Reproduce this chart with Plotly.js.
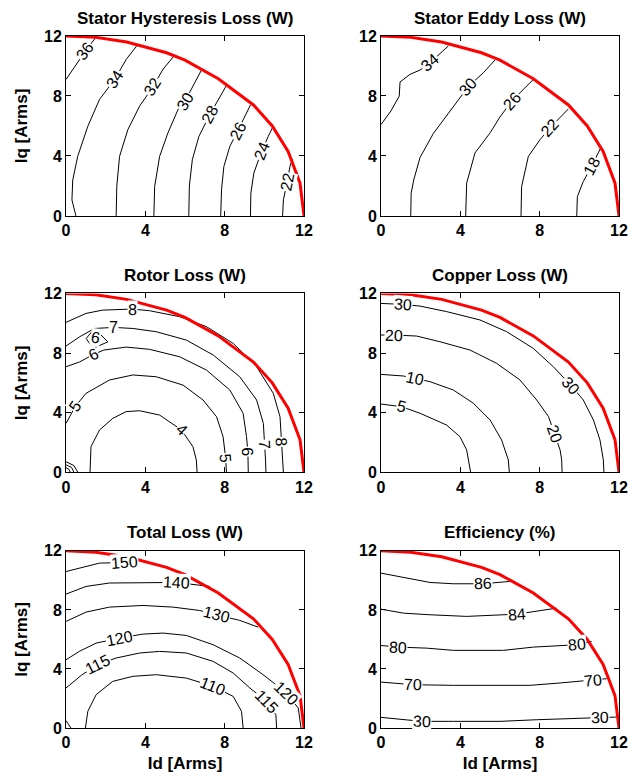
<!DOCTYPE html>
<html><head><meta charset="utf-8">
<script src="https://cdn.plot.ly/plotly-3.0.1.min.js"></script>
<style>html,body{margin:0;padding:0;background:#fff}#chart{width:641px;height:778px}</style>
</head><body><div id="chart"></div>
<script>
const tickVals = [0, 4, 8, 12];
const panelTitles = ['Stator Hysteresis Loss (W)', 'Stator Eddy Loss (W)', 'Rotor Loss (W)', 'Copper Loss (W)', 'Total Loss (W)', 'Efficiency (%)'];

// current limit boundary (red)
const boundaryId = [0, 1.5, 3.06, 5.07, 6.0, 7.68, 9.45, 10.4, 11.2, 11.8, 12];
const boundaryIq = [12, 11.91, 11.6, 10.88, 10.39, 9.15, 7.4, 6.0, 4.3, 2.18, 0];

// Stator hysteresis loss
const hystLevels = [36, 34, 32, 30, 28, 26, 24, 22];
const hystId = [
  [0, 0.5, 0.98, 1.5],
  [0.5, 0.3, 0.34, 0.59, 1.1, 1.69, 2.45, 3.04, 3.6],
  [2.53, 2.56, 2.7, 3.12, 3.71, 4.38, 4.89, 5.4],
  [4.43, 4.47, 4.72, 5.14, 5.65, 6.0, 6.49, 6.83],
  [6.19, 6.22, 6.37, 6.7, 7.25, 7.7, 8.09],
  [7.8, 7.84, 7.96, 8.26, 8.65, 9.02, 9.3],
  [9.3, 9.32, 9.47, 9.86, 10.2, 10.45],
  [10.92, 10.96, 11.16, 11.29, 11.42]
];
const hystIq = [
  [9.1, 10.1, 11.0, 11.9],
  [0, 1.07, 2.4, 3.97, 5.98, 7.77, 9.1, 10.45, 11.4],
  [0, 1.96, 3.97, 5.76, 7.32, 8.6, 9.78, 10.6],
  [0, 1.96, 3.97, 5.54, 7.1, 7.65, 8.88, 9.73],
  [0, 2.0, 3.75, 5.3, 6.76, 7.8, 8.7],
  [0, 1.74, 3.3, 4.64, 5.65, 6.65, 7.4],
  [0, 1.52, 2.86, 4.31, 5.31, 6.0],
  [0, 1.07, 2.3, 3.3, 3.8]
];
const hystLabelLine = [0, 1, 2, 3, 4, 5, 6, 7];
const hystLabelId = [0.98, 2.45, 4.38, 6.0, 7.25, 8.65, 9.86, 11.16];
const hystLabelIq = [11.0, 9.1, 8.6, 7.65, 6.76, 5.65, 4.31, 2.3];

// Stator eddy loss
const eddyLevels = [34, 30, 26, 22, 18];
const eddyId = [
  [0, 0.5, 0.92, 0.96, 1.46, 1.97, 2.47, 2.95, 3.4],
  [1.5, 1.52, 1.65, 1.97, 2.64, 3.55, 4.4, 5.16, 5.75],
  [4.27, 4.32, 4.74, 5.5, 6.0, 6.59, 7.68],
  [7.06, 7.09, 7.43, 8.02, 8.52, 9.45],
  [9.87, 9.9, 10.2, 10.62, 11.1]
];
const eddyIq = [
  [6.09, 7.0, 7.99, 8.93, 9.44, 9.73, 10.22, 10.8, 11.34],
  [0, 1.5, 2.4, 3.9, 5.5, 7.1, 8.62, 9.55, 10.4],
  [0, 2.19, 4.2, 5.54, 6.6, 7.66, 9.1],
  [0, 1.96, 3.97, 5.09, 5.87, 7.14],
  [0, 1.29, 2.3, 3.3, 4.6]
];
const eddyLabelLine = [0, 1, 2, 3, 4];
const eddyLabelId = [2.47, 4.4, 6.59, 8.52, 10.62];
const eddyLabelIq = [10.22, 8.62, 7.66, 5.87, 3.3];

// Rotor loss
const rotorLevels = [8, 7, 6, 6, 5, 4, 5, 5, 5];
const rotorId = [
  [0, 1.01, 1.85, 3.34, 4.21, 5.73, 7.08, 8.43, 9.61, 10.45, 10.79, 10.85, 10.92, 10.96],
  [0, 0.7, 1.44, 2.41, 3.37, 4.55, 6.07, 7.42, 8.76, 9.61, 9.95, 10.03, 10.06, 10.08],
  [1.02, 1.44, 2.11, 1.35, 1.02],
  [0, 0.68, 1.38, 1.9, 3.03, 4.21, 5.73, 7.08, 8.26, 8.93, 9.1, 9.17, 9.19],
  [0, 0.46, 1.01, 2.19, 3.37, 4.55, 5.9, 6.91, 7.59, 7.92, 8.05, 8.09],
  [1.21, 1.26, 1.69, 2.36, 3.03, 3.71, 4.72, 5.82, 6.4, 6.57, 6.61],
  [0, 0.15, 0.22],
  [0, 0.28, 0.4],
  [0, 0.4, 0.6]
];
const rotorIq = [
  [10.06, 10.66, 10.88, 10.95, 10.84, 10.44, 9.77, 8.65, 7.08, 5.3, 3.73, 2.06, 0.83, 0],
  [8.47, 9.1, 9.65, 9.72, 9.65, 9.43, 8.87, 7.87, 6.41, 4.85, 3.28, 1.83, 0.83, 0],
  [8.98, 9.65, 8.75, 8.31, 8.98],
  [7.08, 7.4, 7.9, 8.2, 8.4, 8.25, 7.75, 6.86, 5.52, 3.96, 2.4, 1.39, 0],
  [3.28, 4.4, 5.3, 6.19, 6.53, 6.41, 5.85, 4.85, 3.73, 2.39, 0.94, 0],
  [0, 1.72, 2.84, 3.62, 4.07, 4.13, 3.84, 2.84, 1.72, 0.83, 0],
  [0.3, 0.2, 0],
  [0.5, 0.33, 0],
  [0.71, 0.45, 0]
];
const rotorLabelLine = [0, 0, 1, 1, 2, 3, 3, 4, 4, 5];
const rotorLabelId = [3.34, 10.85, 2.41, 10.03, 1.5, 1.38, 9.15, 0.46, 8.05, 5.82];
const rotorLabelIq = [10.95, 2.06, 9.72, 1.83, 9.05, 7.9, 1.39, 4.4, 0.94, 2.84];

// Copper loss
const copperLevels = [30, 20, 10, 5];
const copperId = [
  [0, 1.13, 1.97, 3.31, 4.99, 6.34, 7.68, 8.69, 9.56, 10.2, 10.71, 11.04, 11.21, 11.24],
  [0, 0.66, 1.8, 2.97, 4.49, 5.83, 7.01, 7.85, 8.45, 8.75, 9.03, 9.11, 9.13],
  [0, 1.13, 1.71, 2.47, 3.65, 4.66, 5.5, 6.08, 6.42, 6.47],
  [0, 1.04, 1.97, 3.31, 3.98, 4.32, 4.52]
];
const copperIq = [
  [11.33, 11.26, 11.15, 10.78, 10.22, 9.43, 8.31, 7.08, 5.85, 4.85, 3.51, 2.17, 0.83, 0],
  [9.21, 9.21, 9.14, 8.76, 8.2, 7.31, 6.19, 4.85, 3.73, 2.61, 1.5, 0.83, 0],
  [6.57, 6.46, 6.3, 6.08, 5.52, 4.63, 3.51, 2.17, 0.83, 0],
  [4.58, 4.4, 3.96, 3.17, 2.39, 1.5, 0]
];
const copperLabelLine = [0, 0, 1, 1, 2, 3];
const copperLabelId = [1.13, 9.56, 0.66, 8.75, 1.71, 1.04];
const copperLabelIq = [11.26, 5.85, 9.21, 2.61, 6.3, 4.4];

// Total loss
const totalLevels = [150, 140, 130, 120, 115, 110, 105];
const totalId = [
  [0, 0.67, 1.69, 2.95, 3.8],
  [0, 1.01, 2.19, 3.71, 5.56, 7.25],
  [0, 1.01, 2.19, 3.88, 5.39, 6.74, 7.59, 8.76, 9.69],
  [0, 0.67, 1.52, 2.7, 3.88, 4.89, 6.07, 7.42, 8.76, 9.94, 11.12, 11.71, 11.85],
  [0, 0.8, 1.6, 2.53, 3.71, 4.72, 6.07, 7.42, 8.43, 9.27, 10.11, 10.58, 10.62],
  [0.98, 1.1, 1.52, 2.36, 3.37, 4.55, 6.07, 7.42, 8.43, 8.85, 8.93],
  [0, 0.25]
];
const totalIq = [
  [10.6, 10.83, 11.17, 11.21, 11.4],
  [9.07, 9.59, 9.82, 9.86, 9.86, 9.59],
  [7.22, 7.85, 8.19, 8.3, 8.19, 7.96, 7.67, 7.29, 6.83],
  [4.62, 5.19, 5.75, 6.09, 6.36, 6.43, 6.27, 5.64, 4.74, 3.61, 2.37, 1.35, 0],
  [2.71, 3.6, 4.29, 4.74, 5.08, 5.19, 5.08, 4.51, 3.72, 2.71, 1.8, 0.9, 0],
  [0, 1.13, 2.26, 3.16, 3.5, 3.61, 3.38, 2.82, 2.14, 1.13, 0],
  [0.5, 0]
];
const totalLabelLine = [0, 1, 2, 3, 3, 4, 4, 5];
const totalLabelId = [2.95, 5.56, 7.59, 2.7, 11.12, 1.6, 10.11, 7.42];
const totalLabelIq = [11.21, 9.86, 7.67, 6.09, 2.37, 4.29, 1.8, 2.82];

// Efficiency
const effLevels = [86, 84, 80, 70, 30];
const effId = [
  [0, 1.29, 2.47, 3.65, 5.13, 6.5],
  [0, 1.13, 2.47, 4.32, 6.84, 7.85, 8.86],
  [0, 0.87, 2.3, 3.65, 6.17, 7.68, 9.87, 10.62],
  [0, 0.79, 1.63, 3.65, 7.51, 9.03, 10.71, 11.38],
  [0, 0.62, 2.05, 3.65, 6.0, 7.85, 11.04, 11.88]
];
const effIq = [
  [10.49, 10.16, 9.86, 9.77, 9.77, 9.93],
  [8.05, 7.78, 7.67, 7.56, 7.71, 7.94, 8.12],
  [5.59, 5.48, 5.41, 5.26, 5.26, 5.48, 5.64, 5.86],
  [3.11, 3.0, 2.93, 2.89, 2.89, 3.05, 3.23, 3.34],
  [0.72, 0.63, 0.45, 0.45, 0.45, 0.56, 0.68, 0.74]
];
const effLabelLine = [0, 1, 2, 2, 3, 3, 4, 4];
const effLabelId = [5.13, 6.84, 0.87, 9.87, 1.63, 10.71, 2.05, 11.04];
const effLabelIq = [9.77, 7.71, 5.48, 5.64, 2.93, 3.23, 0.45, 0.68];

const panels = [
  {lv: hystLevels, x: hystId, y: hystIq, ll: hystLabelLine, lx: hystLabelId, ly: hystLabelIq},
  {lv: eddyLevels, x: eddyId, y: eddyIq, ll: eddyLabelLine, lx: eddyLabelId, ly: eddyLabelIq},
  {lv: rotorLevels, x: rotorId, y: rotorIq, ll: rotorLabelLine, lx: rotorLabelId, ly: rotorLabelIq},
  {lv: copperLevels, x: copperId, y: copperIq, ll: copperLabelLine, lx: copperLabelId, ly: copperLabelIq},
  {lv: totalLevels, x: totalId, y: totalIq, ll: totalLabelLine, lx: totalLabelId, ly: totalLabelIq},
  {lv: effLevels, x: effId, y: effIq, ll: effLabelLine, lx: effLabelId, ly: effLabelIq}
];

const xDomains = [[0, 0.4304], [0.5696, 1]];
const yDomains = [[0.74, 1.0], [0.3695, 0.628], [0, 0.256]];
const W = 641, H = 778, M = {l: 66, r: 22, t: 36, b: 50};
const pxPerX = (W - M.l - M.r) * 0.4304 / 12;
const pxPerY = (H - M.t - M.b) * 0.26 / 12;

function labelAngle(xs, ys, lx, ly) {
  let best = 0, bd = Infinity;
  for (let i = 0; i < xs.length; i++) {
    const d = Math.hypot((xs[i] - lx) * pxPerX, (ys[i] - ly) * pxPerY);
    if (d < bd) { bd = d; best = i; }
  }
  const i1 = Math.max(0, best - 1), i2 = Math.min(xs.length - 1, best + 1);
  const dx = (xs[i2] - xs[i1]) * pxPerX;
  const dy = -(ys[i2] - ys[i1]) * pxPerY;
  let a = Math.atan2(dy, dx) * 180 / Math.PI;
  if (a > 90) a -= 180;
  if (a < -90) a += 180;
  return a;
}

const data = [], annotations = [];
const layout = {
  width: W, height: H, margin: M, showlegend: false,
  paper_bgcolor: '#fff', plot_bgcolor: '#fff',
  font: {family: 'Liberation Sans, Arial, sans-serif', color: '#000'}
};

panels.forEach((p, k) => {
  const sfx = k === 0 ? '' : String(k + 1);
  const xa = 'x' + sfx, ya = 'y' + sfx;
  const col = k % 2, row = Math.floor(k / 2);
  const axCommon = {
    range: [0, 12], tickvals: tickVals, ticks: 'inside', ticklen: 5, tickwidth: 1, tickcolor: '#000',
    showline: true, linecolor: '#000', linewidth: 1, mirror: 'ticks', showgrid: false, zeroline: false,
    tickfont: {family: 'Liberation Sans, Arial, sans-serif', size: 16, weight: 'bold', color: '#000'},
    fixedrange: true
  };
  layout['xaxis' + sfx] = Object.assign({}, axCommon, {domain: xDomains[col], anchor: ya});
  layout['yaxis' + sfx] = Object.assign({}, axCommon, {domain: yDomains[row], anchor: xa});
  if (col === 0) layout['yaxis' + sfx].title = {text: 'Iq [Arms]', standoff: 12, font: {size: 17, weight: 'bold', color: '#000'}};
  if (row === 2) layout['xaxis' + sfx].title = {text: 'Id [Arms]', standoff: 6, font: {size: 17, weight: 'bold', color: '#000'}};

  p.x.forEach((xs, i) => {
    data.push({type: 'scatter', mode: 'lines', x: xs, y: p.y[i], xaxis: xa, yaxis: ya,
      line: {color: '#000', width: 1}, hoverinfo: 'skip', name: String(p.lv[i])});
  });
  data.push({type: 'scatter', mode: 'lines', x: boundaryId, y: boundaryIq, xaxis: xa, yaxis: ya,
    line: {color: '#ff0000', width: 3}, hoverinfo: 'skip', name: 'limit'});

  p.ll.forEach((li, j) => {
    annotations.push({
      xref: xa, yref: ya, x: p.lx[j], y: p.ly[j], text: String(p.lv[li]), showarrow: false,
      textangle: labelAngle(p.x[li], p.y[li], p.lx[j], p.ly[j]),
      font: {size: 16, color: '#000', family: 'Liberation Sans, Arial, sans-serif'},
      bgcolor: '#fff', borderpad: 0
    });
  });

  annotations.push({
    xref: 'paper', yref: 'paper', x: (xDomains[col][0] + xDomains[col][1]) / 2, y: yDomains[row][1],
    xanchor: 'center', yanchor: 'middle', yshift: 18, text: panelTitles[k], showarrow: false,
    font: {size: 17, weight: 'bold', color: '#000', family: 'Liberation Sans, Arial, sans-serif'}
  });
});
layout.annotations = annotations;

Plotly.newPlot('chart', data, layout, {displayModeBar: false, staticPlot: true});
</script>
</body></html>
